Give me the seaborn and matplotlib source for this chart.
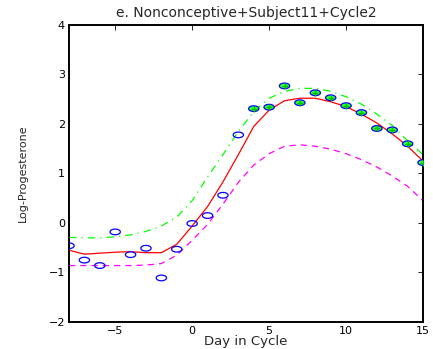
import numpy as np
import pandas as pd
import matplotlib
matplotlib.use("Agg")
import matplotlib.pyplot as plt
import seaborn as sns
from matplotlib.path import Path

# observed log-progesterone by day
days = [-8, -7, -6, -5, -4, -3, -2, -1, 0, 1, 2, 3, 4, 5, 6, 7, 8, 9, 10, 11, 12, 13, 14, 15]
obs = [-0.46, -0.75, -0.86, -0.18, -0.64, -0.51, -1.11, -0.53, -0.01, 0.15, 0.56, 1.78,
       2.31, 2.34, 2.77, 2.43, 2.63, 2.53, 2.37, 2.23, 1.91, 1.88, 1.60, 1.22]
# days flagged (green filled)
flag_days = [4, 5, 6, 7, 8, 9, 10, 11, 12, 13, 14, 15]

# fitted curve and bands
fit = [-0.55, -0.63, -0.61, -0.59, -0.58, -0.60, -0.60, -0.43, -0.06, 0.33, 0.83, 1.38,
       1.95, 2.28, 2.47, 2.52, 2.52, 2.45, 2.35, 2.20, 2.02, 1.80, 1.55, 1.25]
upper = [-0.29, -0.30, -0.30, -0.28, -0.24, -0.17, -0.06, 0.12, 0.45, 0.93, 1.38, 1.85,
         2.25, 2.52, 2.66, 2.72, 2.72, 2.66, 2.55, 2.40, 2.20, 1.97, 1.66, 1.38]
lower = [-0.86, -0.86, -0.86, -0.86, -0.86, -0.85, -0.82, -0.65, -0.35, -0.03, 0.38, 0.82,
         1.17, 1.40, 1.55, 1.58, 1.55, 1.49, 1.40, 1.28, 1.13, 0.95, 0.74, 0.45]

df = pd.DataFrame({"day": days, "obs": obs, "fit": fit, "upper": upper, "lower": lower})
df_flag = df[df["day"].isin(flag_days)]

sns.set_style("white")
plt.rcParams["font.family"] = ["DejaVu Sans"]

fig = plt.figure(figsize=(4.33, 3.49), dpi=100)
ax = fig.add_axes([0.1594, 0.0774, 0.8176, 0.851])

# stretched ellipse marker, like the squashed matlab circles
t = np.linspace(0, 2 * np.pi, 40)
ell = Path(np.column_stack([np.cos(t), 0.55 * np.sin(t)]), closed=True)

sns.lineplot(data=df, x="day", y="upper", ax=ax, color=(0, 1, 0), lw=0.9,
             linestyle=(0, (6, 4, 1, 4)))
sns.lineplot(data=df, x="day", y="lower", ax=ax, color=(1, 0, 1), lw=0.9,
             linestyle=(0, (5, 4)))
sns.lineplot(data=df, x="day", y="fit", ax=ax, color=(1, 0, 0), lw=0.9)

sns.scatterplot(data=df_flag, x="day", y="obs", ax=ax, marker=ell, s=55,
                color=(0.2, 1, 0.2), edgecolor="none", zorder=4)
sns.scatterplot(data=df, x="day", y="obs", ax=ax, marker=ell, s=55,
                facecolor="none", edgecolor=(0, 0, 1), linewidth=0.9, zorder=5)
sns.scatterplot(data=df_flag, x="day", y="obs", ax=ax, marker="+", s=18,
                color=(0, 0.75, 0), linewidth=1.0, zorder=6)

ax.set_xlim(-8, 15)
ax.set_ylim(-2, 4)
ax.set_xticks([-5, 0, 5, 10, 15])
ax.set_yticks([-2, -1, 0, 1, 2, 3, 4])
ax.tick_params(direction="in", length=3.5, width=0.6, top=True, right=True,
               labelsize=8, pad=3, colors="black")
for s in ax.spines.values():
    s.set_visible(True)
    s.set_color("black")
    s.set_linewidth(1.4)

ax.set_xlabel("Day in Cycle", fontsize=9.5, labelpad=-1)
ax.set_ylabel("Log-Progesterone", fontsize=8)
ax.yaxis.set_label_coords(-0.116, 0.5)
ax.set_title("e. Nonconceptive+Subject11+Cycle2", fontsize=10, pad=6)

fig.savefig("out.png", dpi=100)
